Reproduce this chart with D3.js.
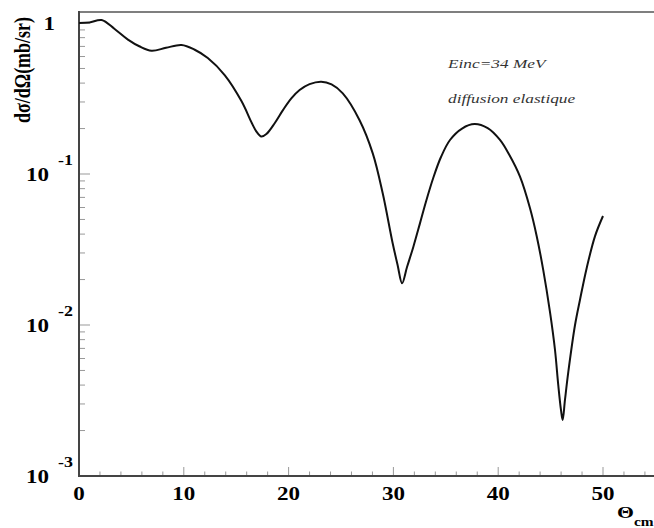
<!DOCTYPE html>
<html>
<head>
<meta charset="utf-8">
<script src="https://cdn.jsdelivr.net/npm/d3@7"></script>
<style>
  html, body { margin: 0; padding: 0; background: #fff; }
  svg { display: block; }
</style>
</head>
<body>
<svg id="chart" width="654" height="528"></svg>
<script>
// Elastic scattering angular distribution, Einc = 34 MeV
const theta = [0, 1, 2.16, 3.4, 4.67, 5.8, 6.92, 8.3, 9.78, 11, 12.29, 13.9, 15.5, 16.5, 16.95,
  17.4, 17.88, 18.67, 19.46, 20.26, 21.05, 22.0, 23.11, 24.1, 25.17, 26.76, 28.03, 28.98,
  29.93, 30.4, 30.83, 31.3, 31.9, 32.54, 33.1, 33.8, 34.54, 35.4, 36.55, 37.75, 39, 40.17,
  41.03, 42.08, 43.03, 43.67, 44.3, 44.94, 45.42, 45.73, 45.99, 46.15, 46.37, 46.69, 47.33,
  47.8, 48.44, 49.24, 50];
const sigma = [1.0, 1.008, 1.047, 0.913, 0.777, 0.699, 0.656, 0.685, 0.715, 0.668, 0.586, 0.452,
  0.304, 0.217, 0.190, 0.177, 0.184, 0.217, 0.265, 0.317, 0.360, 0.394, 0.409, 0.392, 0.342,
  0.228, 0.137, 0.0745, 0.0348, 0.0250, 0.0189, 0.0242, 0.0329, 0.0473, 0.0653, 0.0941, 0.1296,
  0.168, 0.200, 0.214, 0.201, 0.168, 0.135, 0.096, 0.0595, 0.0389, 0.0231, 0.0122, 0.00683,
  0.00401, 0.00274, 0.00235, 0.00319, 0.00489, 0.0100, 0.01465, 0.0238, 0.0388, 0.0527];

const xMajorTicks = [0, 10, 20, 30, 40, 50];
const xTickLabels = ["0", "10", "20", "30", "40", "50"];
const yDecades = [1e-3, 1e-2, 1e-1, 1];
const yExponents = ["-3", "-2", "-1", null];
const annotations = ["Einc=34 MeV", "diffusion elastique"];

const svg = d3.select("#chart");
const SX = 1.28; // horizontal glyph stretch used throughout
const serif = "Liberation Serif, Times New Roman, serif";

const x = d3.scaleLinear().domain([0, 56]).range([79, 79 + 56 * 10.48]);
const y = d3.scaleLog().domain([1e-3, 1.183]).range([476, 12]);

// frame lines: top border, left and bottom axes
svg.append("line").attr("x1", x(0)).attr("x2", x(56)).attr("y1", 12).attr("y2", 12)
  .attr("stroke", "#555").attr("stroke-width", 1.6);

// x ticks (inside, pointing up)
const xMinor = d3.range(0, 56, 2).filter(v => v % 10 !== 0);
svg.append("g").selectAll("line").data(xMinor).join("line")
  .attr("x1", d => x(d)).attr("x2", d => x(d))
  .attr("y1", 476).attr("y2", 471.5)
  .attr("stroke", "#999").attr("stroke-width", 1);
svg.append("g").selectAll("line").data(xMajorTicks).join("line")
  .attr("x1", d => x(d)).attr("x2", d => x(d))
  .attr("y1", 476).attr("y2", 467)
  .attr("stroke", "#999").attr("stroke-width", 1);

// y ticks (inside, pointing right)
const yMinor = [];
yDecades.slice(0, 3).forEach(d => { for (let k = 2; k <= 9; k++) yMinor.push(d * k); });
svg.append("g").selectAll("line").data(yMinor).join("line")
  .attr("x1", 79).attr("x2", 85)
  .attr("y1", d => y(d)).attr("y2", d => y(d))
  .attr("stroke", "#999").attr("stroke-width", 1);
svg.append("g").selectAll("line").data(yDecades).join("line")
  .attr("x1", 79).attr("x2", 90)
  .attr("y1", d => y(d)).attr("y2", d => y(d))
  .attr("stroke", "#999").attr("stroke-width", 1);

svg.append("line").attr("x1", 79).attr("x2", 79).attr("y1", 11).attr("y2", 477)
  .attr("stroke", "#444").attr("stroke-width", 2);
svg.append("line").attr("x1", 78).attr("x2", x(56)).attr("y1", 476).attr("y2", 476)
  .attr("stroke", "#444").attr("stroke-width", 2);

// stretched text helper
function label(px, py, str, size, opts = {}) {
  const g = svg.append("g").attr("transform",
    `translate(${px},${py}) scale(${SX},1)` + (opts.rotate ? ` rotate(${opts.rotate})` : ""));
  return g.append("text").attr("x", 0).attr("y", 0)
    .attr("font-family", serif).attr("font-size", size)
    .attr("font-weight", opts.weight || "bold")
    .attr("font-style", opts.style || "normal")
    .attr("fill", opts.fill || "#000")
    .attr("text-anchor", opts.anchor || "start")
    .text(str);
}

// x tick labels
xMajorTicks.forEach((v, i) => label(x(v), 500, xTickLabels[i], 18, { anchor: "middle" }));

// y tick labels: 10 with superscript exponent, and 1 at the top decade
yDecades.forEach((d, i) => {
  const ty = y(d);
  if (yExponents[i] === null) {
    label(55, ty + 7, "1", 18, { anchor: "end" });
  } else {
    label(49, ty + 7, "10", 18, { anchor: "end" });
    label(58, ty - 9, yExponents[i], 14);
  }
});

// axis titles
label(30, 70, "dσ/dΩ(mb/sr)", 18, { anchor: "middle", rotate: -90 });
label(617, 518, "Θ", 17);
label(634, 526, "cm", 12);

// annotations
label(448, 68, annotations[0], 13.5, { weight: "normal", style: "italic", fill: "#333" });
label(448, 103, annotations[1], 13.5, { weight: "normal", style: "italic", fill: "#333" });

// cross-section curve
const pts = theta.map((t, i) => [t, sigma[i]]);
const line = d3.line().x(d => x(d[0])).y(d => y(d[1])).curve(d3.curveCatmullRom.alpha(0.5));
svg.append("path").datum(pts).attr("d", line)
  .attr("fill", "none").attr("stroke", "#111").attr("stroke-width", 2)
  .attr("stroke-linejoin", "round");
</script>
</body>
</html>
